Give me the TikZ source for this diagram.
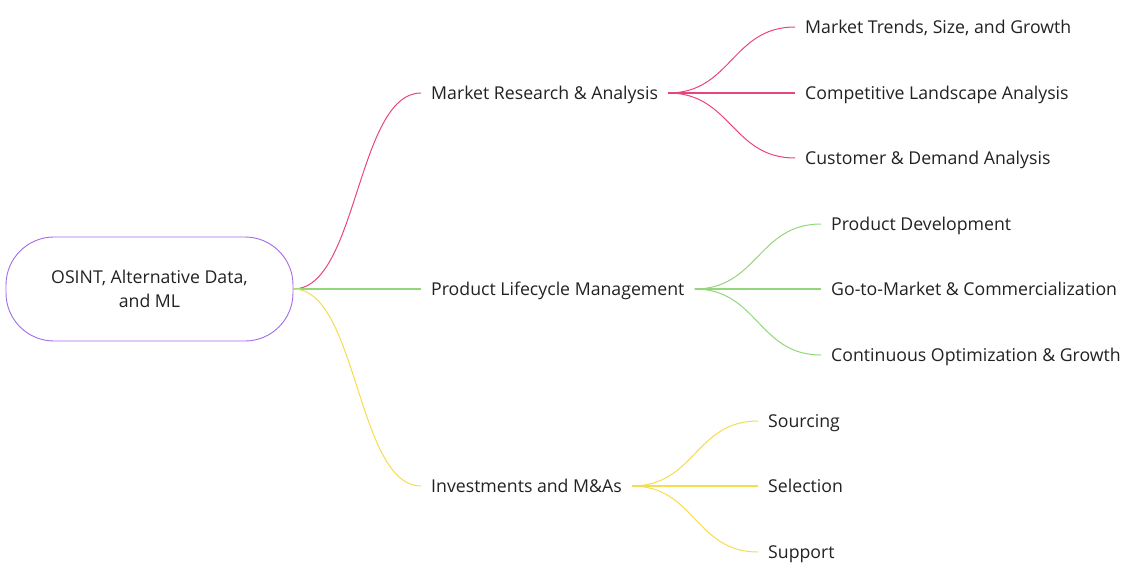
\documentclass[tikz,border=0pt]{standalone}
\usepackage{fontspec}
\setmainfont{Open Sans}
\begin{document}
\begin{tikzpicture}[x=1pt,y=-1pt,
  lbl/.style={anchor=west,inner xsep=10pt,inner ysep=2pt,text height=17pt,text depth=3.8pt,font=\fontsize{17.7}{21}\selectfont,text=txt},
  conn/.style={line width=1pt},
  straight/.style={line width=1.15pt},
  root/.style={draw=purp,line width=0.9pt,rounded corners=48pt,minimum width=287pt,minimum height=104pt,align=center,font=\fontsize{17.7}{24}\selectfont,text=txt}]
\definecolor{txt}{HTML}{222222}
\definecolor{purp}{HTML}{A46BE8}
\definecolor{pinkc}{HTML}{E8457A}
\definecolor{greenc}{HTML}{93D67C}
\definecolor{yellc}{HTML}{F5DC50}
\useasboundingbox (0,0) rectangle (1130,573);
\node[root] (root) at (149.5,289) {OSINT, Alternative Data,\\and ML};
\node[lbl] (mr) at (421,93) {Market Research \& Analysis};
\node[lbl] (pl) at (421,289) {Product Lifecycle Management};
\node[lbl] (im) at (421,486) {Investments and M\&As};
\node[lbl] (mr1) at (795,27) {Market Trends, Size, and Growth};
\node[lbl] (mr2) at (795,93) {Competitive Landscape Analysis};
\node[lbl] (mr3) at (795,158) {Customer \& Demand Analysis};
\node[lbl] (pl1) at (821,224) {Product Development};
\node[lbl] (pl2) at (821,289) {Go-to-Market \& Commercialization};
\node[lbl] (pl3) at (821,355) {Continuous Optimization \& Growth};
\node[lbl] (im1) at (758,421) {Sourcing};
\node[lbl] (im2) at (758,486) {Selection};
\node[lbl] (im3) at (758,552) {Support};
\draw[conn,pinkc] (root.east) .. controls +(64,0) and ([xshift=-64pt]mr.west) .. (mr.west);
\draw[straight,greenc] (root.east) -- (pl.west);
\draw[conn,yellc] (root.east) .. controls +(64,0) and ([xshift=-64pt]im.west) .. (im.west);
\draw[conn,pinkc] (mr.east) .. controls +(63,0) and ([xshift=-63pt]mr1.west) .. (mr1.west);
\draw[straight,pinkc] (mr.east) -- (mr2.west);
\draw[conn,pinkc] (mr.east) .. controls +(63,0) and ([xshift=-63pt]mr3.west) .. (mr3.west);
\draw[conn,greenc] (pl.east) .. controls +(63,0) and ([xshift=-63pt]pl1.west) .. (pl1.west);
\draw[straight,greenc] (pl.east) -- (pl2.west);
\draw[conn,greenc] (pl.east) .. controls +(63,0) and ([xshift=-63pt]pl3.west) .. (pl3.west);
\draw[conn,yellc] (im.east) .. controls +(63,0) and ([xshift=-63pt]im1.west) .. (im1.west);
\draw[straight,yellc] (im.east) -- (im2.west);
\draw[conn,yellc] (im.east) .. controls +(63,0) and ([xshift=-63pt]im3.west) .. (im3.west);
\end{tikzpicture}
\end{document}
